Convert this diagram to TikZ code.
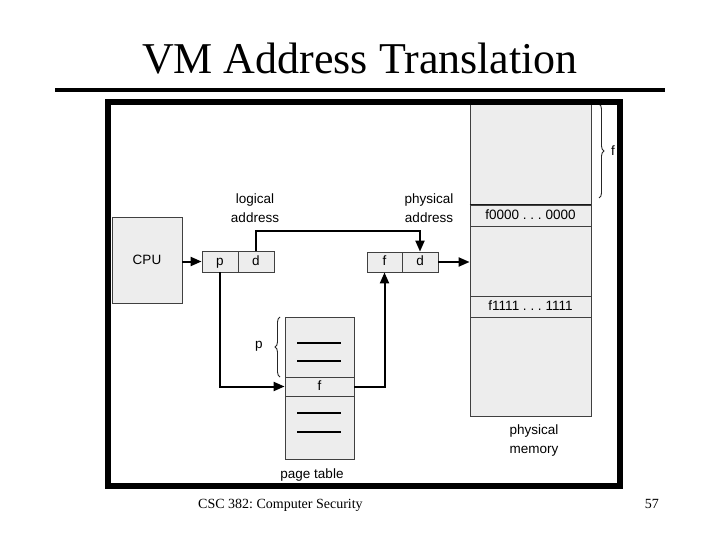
\documentclass[tikz,border=0pt]{standalone}
\usepackage{fontspec}
\setmainfont{Liberation Serif}
\newfontfamily\diagfont{Liberation Sans}
\usetikzlibrary{decorations.pathreplacing,arrows.meta}
\frenchspacing
\begin{document}
\begin{tikzpicture}[x=1pt,y=-1pt,
  cellbox/.style={draw=black!75, fill=black!7, line width=0.8pt, inner sep=0pt,
    font=\diagfont\fontsize{13.5}{15}\selectfont},
  celltext/.style={text height=9.5pt, text depth=2.5pt},
  lbl/.style={inner sep=0pt, align=center, font=\diagfont\fontsize{13.5}{19}\selectfont},
  conn/.style={line width=2pt, -{Triangle[length=11pt,width=9pt]}},
  rowline/.style={line width=1.6pt, black},
  bracedeco/.style={draw=black!85, line width=0.9pt, decorate, decoration={brace, amplitude=5pt}}]
\useasboundingbox (0,0) rectangle (720,540);

% title
\node[anchor=base, inner sep=0pt, font=\fontsize{44}{50}\selectfont] (title) at (360,74) {VM Address Translation};
\draw[line width=4pt] (55,90) coordinate (rl) -- (665,90) coordinate (rr);

% memory
\node[cellbox, minimum width=121pt, minimum height=312pt] (mem) at (530.5,260) {};
\node[cellbox, celltext, minimum width=121pt, minimum height=21pt] (r0) at (530.5,215.5) {f0000 . . . 0000};
\node[cellbox, celltext, minimum width=121pt, minimum height=21pt] (r1) at (530.5,306.5) {f1111 . . . 1111};
\draw[line width=1.8pt, black!90] (r0.north west) -- (r0.north east);
\draw[bracedeco] (599,104) coordinate (fb1) -- (599,198) coordinate (fb2);
\node[lbl] (flab) at (613,151) {f};
\node[lbl] (memlab) at (534,441) {physical\\memory};

% CPU
\node[cellbox, minimum width=70pt, minimum height=86pt] (cpu) at (147,260) {CPU};

% logical address
\node[cellbox, celltext, minimum width=36pt, minimum height=21pt] (p) at (220,261.5) {p};
\node[cellbox, celltext, minimum width=36pt, minimum height=21pt] (d) at (256,261.5) {d};
\node[lbl] (loglab) at (255,208) {logical\\address};

% physical address
\node[cellbox, celltext, minimum width=35pt, minimum height=20pt] (f) at (384.5,262) {f};
\node[cellbox, celltext, minimum width=36pt, minimum height=20pt] (d2) at (420,262) {d};
\node[lbl] (physlab) at (429,208) {physical\\address};

% page table
\node[cellbox, minimum width=69pt, minimum height=142pt] (pt) at (319.5,388) {};
\node[cellbox, celltext, minimum width=69pt, minimum height=19pt] (ptf) at (319.5,386.5) {f};
\draw[rowline] (297,343) -- (341,343);
\draw[rowline] (297,361) -- (341,361);
\draw[rowline] (297,413) -- (341,413);
\draw[rowline] (297,432) -- (341,432);
\draw[bracedeco] (280,377) coordinate (pb1) -- (280,317) coordinate (pb2);
\node[lbl] (plab) at (259,346) {p};
\node[lbl] (ptlab) at (312,475) {page table};

% connectors
\draw[conn] (cpu.east |- p.west) -- (p.west);
\draw[conn] (d.north) -- (d.north |- 0,231) -- (d2.north |- 0,231) -- (d2.north);
\draw[conn] (p.south) |- (ptf.west);
\draw[conn] (ptf.east) -| (f.south);
\draw[conn] (d2.east) -- (d2.east -| mem.west);

% frame
\draw[line width=6pt] (108,102) coordinate (fa) rectangle (619.5,486) coordinate (fc);

% footer
\node[anchor=base west, inner sep=0pt, font=\fontsize{14}{16}\selectfont] (foot) at (198,508) {CSC 382: Computer Security};
\node[anchor=base east, inner sep=0pt, font=\fontsize{14}{16}\selectfont] (pg) at (659,508) {57};
\end{tikzpicture}
\end{document}
